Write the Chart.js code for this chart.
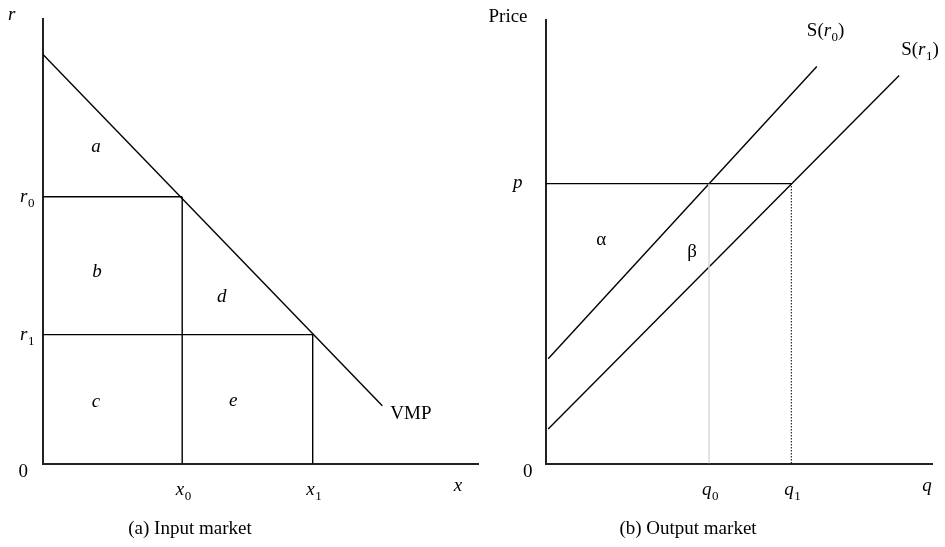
<!DOCTYPE html>
<html>
<head>
<meta charset="utf-8">
<script src="https://cdn.jsdelivr.net/npm/chart.js@4/dist/chart.umd.min.js"></script>
<style>
  html, body { margin: 0; padding: 0; background: #fff; }
  #wrap { position: relative; width: 945px; height: 547px; }
  #wrap canvas { position: absolute; left: 0; top: 0; }
</style>
</head>
<body>
<div id="wrap">
  <canvas id="inputMarket" width="945" height="547"></canvas>
  <canvas id="outputMarket" width="945" height="547"></canvas>
</div>
<script>
// ---- Panel (a): input market ----
const vmpX = [0, 78];                 // VMP curve, input quantity
const vmpR = [92, 13];                // VMP curve, input price
const inputPrices = [60, 29];         // r0, r1
const inputQuantities = [32, 62];     // x0, x1
const inputPriceLabels = [['r', '0'], ['r', '1']];
const inputQuantityLabels = [['x', '0'], ['x', '1']];
const inputAreas = ['a', 'b', 'c', 'd', 'e'];
const inputAreaX = [12.2, 12.4, 12.2, 41.1, 43.7];
const inputAreaY = [70.1, 42.0, 12.7, 36.3, 12.9];

// ---- Panel (b): output market ----
const supply0Q = [0.7, 70.2];         // S(r0)
const supply0P = [23.6, 89.5];
const supply1Q = [0.7, 91.5];         // S(r1)
const supply1P = [7.8, 87.5];
const outputPrice = 63.1;             // p
const outputQuantities = [42.3, 63.6];// q0, q1
const outputQuantityLabels = [['q', '0'], ['q', '1']];
const outputAreas = ['\u03b1', '\u03b2'];
const outputAreaX = [14.4, 37.9];
const outputAreaY = [49.3, 46.6];

const SERIF = '"Liberation Serif", "Times New Roman", serif';
const BIG = 19, SMALL = 13;
const font = (size, italic) => (italic ? 'italic ' : '') + size + 'px ' + SERIF;

function seg(xs, ys, extra) {
  return Object.assign({
    data: xs.map((x, i) => ({ x: x, y: ys[i] })),
    showLine: true,
    pointRadius: 0,
    pointHoverRadius: 0,
    borderColor: '#000',
    borderWidth: 1.4,
    fill: false
  }, extra || {});
}

// italic symbol followed by an upright subscript digit
function subText(ctx, base, sub, x, y, align) {
  ctx.font = font(BIG, true);
  const wb = ctx.measureText(base).width;
  ctx.font = font(SMALL, false);
  const ws = ctx.measureText(sub).width;
  const w = wb + ws;
  const left = align === 'center' ? x - w / 2 : align === 'right' ? x - w : x;
  ctx.textAlign = 'left';
  ctx.font = font(BIG, true);
  ctx.fillText(base, left, y);
  ctx.font = font(SMALL, false);
  ctx.fillText(sub, left + wb + 0.5, y + 5);
}

// "S(r0)" style supply-curve label
function supplyText(ctx, sub, x, y) {
  ctx.textAlign = 'left';
  let cx = x;
  ctx.font = font(BIG, false); ctx.fillText('S(', cx, y); cx += ctx.measureText('S(').width;
  ctx.font = font(BIG, true);  ctx.fillText('r', cx, y);  cx += ctx.measureText('r').width + 0.5;
  ctx.font = font(SMALL, false); ctx.fillText(sub, cx, y + 5); cx += ctx.measureText(sub).width;
  ctx.font = font(BIG, false); ctx.fillText(')', cx, y);
}

function plainText(ctx, text, x, y, align, italic) {
  ctx.font = font(BIG, italic);
  ctx.textAlign = align;
  ctx.fillText(text, x, y);
}

const scaleOpts = {
  type: 'linear', min: 0, max: 100,
  grid: { display: false, drawTicks: false },
  ticks: { display: false },
  border: { display: true, color: '#222', width: 2 }
};

const baseOptions = (padding) => ({
  responsive: false,
  animation: false,
  events: [],
  layout: { padding: padding },
  plugins: { legend: { display: false }, tooltip: { enabled: false }, title: { display: false } },
  scales: { x: Object.assign({}, scaleOpts), y: Object.assign({}, scaleOpts) }
});

// Labels for panel (a)
const inputLabels = {
  id: 'inputLabels',
  afterDraw(chart) {
    const ctx = chart.ctx, xs = chart.scales.x, ys = chart.scales.y, area = chart.chartArea;
    ctx.save();
    ctx.fillStyle = '#000';
    ctx.textBaseline = 'alphabetic';
    plainText(ctx, 'r', area.left - 35, area.top + 1, 'left', true);
    plainText(ctx, '0', area.left - 15, 477, 'right', false);
    inputPrices.forEach((r, i) => {
      const lab = inputPriceLabels[i];
      subText(ctx, lab[0], lab[1], area.left - 9, ys.getPixelForValue(r) + 5, 'right');
    });
    inputQuantities.forEach((q, i) => {
      const lab = inputQuantityLabels[i];
      subText(ctx, lab[0], lab[1], xs.getPixelForValue(q) + 1, 495, 'center');
    });
    plainText(ctx, 'x', xs.getPixelForValue(95.4), 491, 'center', true);
    inputAreas.forEach((t, i) => {
      plainText(ctx, t, xs.getPixelForValue(inputAreaX[i]), ys.getPixelForValue(inputAreaY[i]), 'center', true);
    });
    plainText(ctx, 'VMP', xs.getPixelForValue(vmpX[1]) + 8, ys.getPixelForValue(vmpR[1]) + 13, 'left', false);
    plainText(ctx, '(a) Input market', 190, 534, 'center', false);
    ctx.restore();
  }
};

// Labels for panel (b)
const outputLabels = {
  id: 'outputLabels',
  afterDraw(chart) {
    const ctx = chart.ctx, xs = chart.scales.x, ys = chart.scales.y, area = chart.chartArea;
    ctx.save();
    ctx.fillStyle = '#000';
    ctx.textBaseline = 'alphabetic';
    plainText(ctx, 'Price', area.left - 57, area.top + 2, 'left', false);
    plainText(ctx, 'p', area.left - 23, ys.getPixelForValue(outputPrice) + 4, 'right', true);
    plainText(ctx, '0', area.left - 13, 477, 'right', false);
    outputQuantities.forEach((q, i) => {
      const lab = outputQuantityLabels[i];
      subText(ctx, lab[0], lab[1], xs.getPixelForValue(q) + 1, 495, 'center');
    });
    plainText(ctx, 'q', xs.getPixelForValue(98.7), 491, 'center', true);
    outputAreas.forEach((t, i) => {
      plainText(ctx, t, xs.getPixelForValue(outputAreaX[i]), ys.getPixelForValue(outputAreaY[i]), 'center', false);
    });
    supplyText(ctx, '0', xs.getPixelForValue(supply0Q[1]) - 10, ys.getPixelForValue(supply0P[1]) - 31);
    supplyText(ctx, '1', xs.getPixelForValue(supply1Q[1]) + 2, ys.getPixelForValue(supply1P[1]) - 20);
    plainText(ctx, '(b) Output market', 688, 534, 'center', false);
    ctx.restore();
  }
};

new Chart(document.getElementById('inputMarket'), {
  type: 'scatter',
  data: {
    datasets: [
      seg(vmpX, vmpR),
      seg([0, inputQuantities[0]], [inputPrices[0], inputPrices[0]]),
      seg([inputQuantities[0], inputQuantities[0]], [0, inputPrices[0]]),
      seg([0, inputQuantities[1]], [inputPrices[1], inputPrices[1]]),
      seg([inputQuantities[1], inputQuantities[1]], [0, inputPrices[1]])
    ]
  },
  options: baseOptions({ left: 43, top: 19, right: 467, bottom: 83.5 }),
  plugins: [inputLabels]
});

new Chart(document.getElementById('outputMarket'), {
  type: 'scatter',
  data: {
    datasets: [
      seg([outputQuantities[0], outputQuantities[0]], [0, outputPrice], { borderColor: '#d9d9d9', borderWidth: 1.5 }),
      seg([outputQuantities[1], outputQuantities[1]], [0, outputPrice], { borderWidth: 1, borderDash: [1.5, 1.5] }),
      seg([0, outputQuantities[1]], [outputPrice, outputPrice]),
      seg(supply0Q, supply0P),
      seg(supply1Q, supply1P)
    ]
  },
  options: baseOptions({ left: 545.5, top: 20, right: 13, bottom: 83.5 }),
  plugins: [outputLabels]
});
</script>
</body>
</html>
